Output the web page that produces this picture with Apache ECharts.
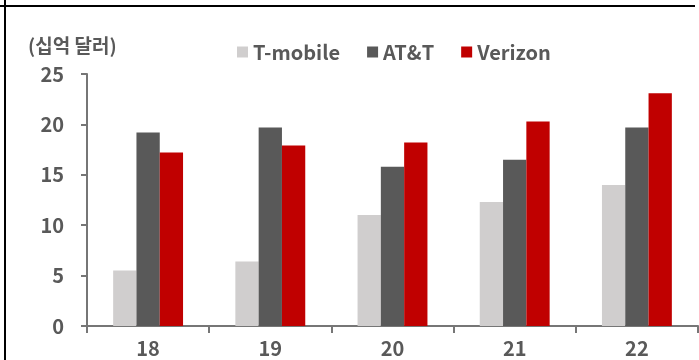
<!DOCTYPE html>
<html>
<head>
<meta charset="utf-8">
<script src="https://cdn.jsdelivr.net/npm/echarts@6/dist/echarts.min.js"></script>
<style>
  html, body { margin: 0; padding: 0; background: #ffffff; }
  #chart { width: 699px; height: 360px; }
</style>
</head>
<body>
<div id="chart"></div>
<script>
// Annual figures, in billions of dollars
const years = ['18', '19', '20', '21', '22'];
const tmobile = [5.5, 6.4, 11.0, 12.3, 14.0];
const att = [19.2, 19.7, 15.8, 16.5, 19.7];
const verizon = [17.2, 17.9, 18.2, 20.3, 23.1];
const yTicks = [0, 5, 10, 15, 20, 25];
const unitLabel = '(십억 달러)';

const FONT = '"Noto Sans CJK KR", "Noto Sans", sans-serif';
const TEXT = '#595959';
const AXIS = '#767676';

const chart = echarts.init(document.getElementById('chart'), null, { renderer: 'canvas' });

function barSeries(name, data, color) {
  return {
    name: name,
    type: 'bar',
    data: data,
    barWidth: 23.3,
    barGap: '0%',
    itemStyle: { color: color },
    emphasis: { disabled: true }
  };
}

chart.setOption({
  animation: false,
  backgroundColor: '#ffffff',
  textStyle: { fontFamily: FONT },
  grid: { left: 87, right: 1, top: 74, bottom: 34, containLabel: false },
  title: {
    text: unitLabel,
    left: 23,
    top: 31,
    textStyle: { fontFamily: FONT, fontSize: 19, fontWeight: 'bold', color: TEXT }
  },
  legend: {
    left: 237,
    top: 42,
    padding: 0,
    icon: 'rect',
    itemWidth: 11,
    itemHeight: 11,
    itemGap: 27,
    selectedMode: false,
    textStyle: { fontFamily: FONT, fontSize: 20, fontWeight: 'bold', color: TEXT },
    data: ['T-mobile', 'AT&T', 'Verizon']
  },
  xAxis: {
    type: 'category',
    data: years,
    axisLine: { lineStyle: { color: AXIS, width: 2 } },
    axisTick: { show: true, length: 7, alignWithLabel: false, lineStyle: { color: AXIS, width: 2 } },
    axisLabel: { margin: 12, fontFamily: FONT, fontSize: 20, fontWeight: 'bold', color: TEXT }
  },
  yAxis: {
    type: 'value',
    min: yTicks[0],
    max: yTicks[yTicks.length - 1],
    interval: yTicks[1] - yTicks[0],
    splitLine: { show: false },
    axisLine: { show: true, lineStyle: { color: AXIS, width: 2 } },
    axisTick: { show: true, length: 6, lineStyle: { color: AXIS, width: 2 } },
    axisLabel: { margin: 23, fontFamily: FONT, fontSize: 20, fontWeight: 'bold', color: TEXT }
  },
  graphic: [
    // frame lines along the top and left edges
    { type: 'rect', shape: { x: 0, y: 5, width: 695, height: 2 }, style: { fill: '#000000' }, silent: true },
    { type: 'rect', shape: { x: 4, y: 0, width: 2, height: 360 }, style: { fill: '#000000' }, silent: true }
  ],
  series: [
    barSeries('T-mobile', tmobile, '#d0cece'),
    barSeries('AT&T', att, '#595959'),
    barSeries('Verizon', verizon, '#c00000')
  ]
});
</script>
</body>
</html>
